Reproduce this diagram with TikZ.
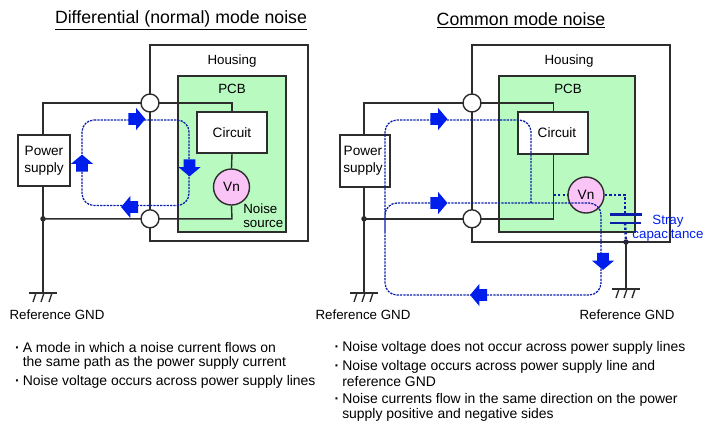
\documentclass[tikz,border=0pt]{standalone}
\usepackage{fontspec}
\setmainfont{Liberation Sans}
\usetikzlibrary{shapes.arrows}
\definecolor{pcbgreen}{RGB}{184,250,192}
\definecolor{vnpink}{RGB}{250,196,246}
\definecolor{noiseblue}{RGB}{10,30,170}
\definecolor{arrowblue}{RGB}{0,30,235}
\definecolor{wiregray}{RGB}{45,45,45}
\newcommand{\px}{0.75pt}
\newcommand{\bul}{\llap{\textbf{·}\hspace{2.2pt}}}
\tikzset{
  wire/.style={draw=wiregray,line width=1.05pt},
  housing/.style={rectangle,wire,inner sep=0pt},
  pcb/.style={rectangle,wire,fill=pcbgreen,inner sep=0pt},
  whitebox/.style={rectangle,wire,fill=white,inner sep=0pt,align=center,font=\fontsize{10.2}{12.6}\selectfont},
  vsource/.style={circle,wire,fill=vnpink,minimum size=36*\px,inner sep=0pt,font=\fontsize{10.2}{12}\selectfont},
  terminal/.style={circle,wire,fill=white,minimum size=18*\px,inner sep=0pt},
  junction/.style={circle,fill=black!85,minimum size=5.5*\px,inner sep=0pt},
  lbl/.style={inner sep=0pt,align=center,font=\fontsize{10}{12.6}\selectfont},
  straylbl/.style={lbl,text=arrowblue},
  heading/.style={inner sep=0pt,font=\fontsize{13.3}{16}\selectfont},
  bodytext/.style={inner sep=0pt,anchor=west,font=\fontsize{10.45}{12}\selectfont},
  noisepath/.style={draw=noiseblue,line width=0.95pt,dash pattern=on 1.7pt off 0.8pt,rounded corners=9pt},
  strayline/.style={draw=noiseblue,line width=1.8pt,dash pattern=on 1.8pt off 1.6pt},
  plate/.style={draw=noiseblue,line width=1.7pt},
  blockarrow/.style={single arrow,fill=arrowblue,inner sep=5.5*\px,minimum width=21*\px,
    minimum height=17*\px,single arrow head extend=4pt,single arrow tip angle=100},
  gnd/.pic={
    \draw[wire] (-14,0) -- (14,0);
    \draw[wire] (-7,0) -- (-10,9);
    \draw[wire] (1,0) -- (-2,9);
    \draw[wire] (9,0) -- (6,9);
  }
}
\begin{document}
\begin{tikzpicture}[x=\px,y=-\px]
  \useasboundingbox (0,0) rectangle (724,429);
  % left: differential mode
  \node[heading] (title1) at (181,20) {\underline{Differential (normal) mode noise}};
  \node[housing,minimum width=158*\px,minimum height=196*\px] (house1) at (229,143) {};
  \node[pcb,minimum width=108*\px,minimum height=156*\px] (pcb1) at (232,154) {};
  \node[lbl] (houselbl1) at (232,61) {Housing};
  \node[lbl] (pcblbl1) at (232,89) {PCB};
  \node[whitebox,minimum width=70*\px,minimum height=41*\px] (circuit1) at (232,132.5) {Circuit};
  \node[vsource] (vn1) at (231.5,187) {Vn};
  \node[whitebox,minimum width=52*\px,minimum height=51*\px] (supply1) at (44,160.5) {Power\\supply};
  \node[lbl,anchor=west,align=left,font=\fontsize{10}{10.8}\selectfont] (noiselbl1) at (243,216) {Noise\\source};
  \node[junction] (dot1) at (43,218.8) {};
  \coordinate (gnd1) at (43,293);
  \coordinate (topleft1) at (43,103);
  \coordinate (topright1) at (232,103);
  \coordinate (botright1) at (232,218.8);
  \draw[wire] (supply1.north -| topleft1) -- (topleft1) -- (topright1) -- (circuit1.north);
  \draw[wire] (circuit1.south) -- (vn1.north);
  \draw[wire] (vn1.south) -- (botright1) -- (dot1.center);
  \draw[wire,line width=1.2pt] (supply1.south -| dot1) -- (gnd1);
  \pic at (gnd1) {gnd};
  \node[terminal] (term1a) at (150,103) {};
  \node[terminal] (term1b) at (150,218.8) {};
  \node[lbl] (gndlbl1) at (57,315) {Reference GND};
  \coordinate (loop1a) at (82,120);
  \coordinate (loop1b) at (189,120);
  \coordinate (loop1c) at (189,205.5);
  \coordinate (loop1d) at (82,205.5);
  \draw[noisepath] (loop1a) -- (loop1b) -- (loop1c) -- (loop1d) -- cycle;
  \node[blockarrow] (arr1a) at (134.5,119) {};
  \node[blockarrow,shape border rotate=270] (arr1b) at (189.5,165.5) {};
  \node[blockarrow,shape border rotate=180] (arr1c) at (132,207) {};
  \node[blockarrow,shape border rotate=90] (arr1d) at (82,165.5) {};
  % right: common mode
  \node[heading] (title2) at (521,20) {\underline{Common mode noise}};
  \node[housing,minimum width=198*\px,minimum height=197*\px] (house2) at (571,143.5) {};
  \node[pcb,minimum width=136*\px,minimum height=156*\px] (pcb2) at (567,154) {};
  \node[lbl] (houselbl2) at (569,61) {Housing};
  \node[lbl] (pcblbl2) at (568,89) {PCB};
  \node[whitebox,minimum width=70*\px,minimum height=42*\px] (circuit2) at (553,133) {\hspace*{6pt}Circuit};
  \node[vsource] (vn2) at (586,195) {Vn};
  \node[whitebox,minimum width=50*\px,minimum height=52*\px] (supply2) at (365,161) {\hspace*{-3pt}Power\\\hspace*{-3pt}supply};
  \node[junction] (dot2) at (364,218.8) {};
  \node[junction] (dot3) at (626,242) {};
  \coordinate (gnd2) at (364,293);
  \coordinate (gnd3) at (626,289);
  \coordinate (topleft2) at (364,103);
  \coordinate (topright2) at (553.5,103);
  \coordinate (botright2) at (553.5,218.8);
  \coordinate (vnwire) at (553.5,195);
  \coordinate (vncorner) at (625,195);
  \coordinate (plate1a) at (610,214.5);
  \coordinate (plate1b) at (642,214.5);
  \coordinate (plate2a) at (610,223);
  \coordinate (plate2b) at (641,223);
  \coordinate (platetop) at (625,214.5);
  \coordinate (platebot) at (625,223);
  \draw[wire] (supply2.north -| topleft2) -- (topleft2) -- (topright2) -- (circuit2.north -| topright2);
  \draw[wire] (circuit2.south -| botright2) -- (botright2) -- (dot2.center);
  \draw[wire,line width=1.2pt] (supply2.south -| dot2) -- (gnd2);
  \draw[wire,line width=1.2pt] (dot3.center) -- (gnd3);
  \pic at (gnd2) {gnd};
  \pic at (gnd3) {gnd};
  \node[terminal] (term2a) at (472,103) {};
  \node[terminal] (term2b) at (472,218.8) {};
  \node[lbl] (gndlbl2) at (363,315) {Reference GND};
  \node[lbl] (gndlbl3) at (627,315) {Reference GND};
  \draw[strayline] (vnwire) -- (vn2.west);
  \draw[strayline] (vn2.east) -- (vncorner) -- (platetop);
  \draw[strayline] (platebot) -- (dot3.center);
  \draw[plate] (plate1a) -- (plate1b);
  \draw[plate] (plate2a) -- (plate2b);
  \node[straylbl] (straylbl) at (668,221) {Stray};
  \node[straylbl] (caplbl) at (668,235.5) {capacitance};
  \coordinate (loop2a) at (385,232);
  \coordinate (loop2b) at (385,203);
  \coordinate (loop2c) at (601,203);
  \coordinate (loop2d) at (601,295);
  \coordinate (loop2e) at (385,295);
  \coordinate (loop2f) at (385,120);
  \coordinate (loop2g) at (531,120);
  \coordinate (loop2h) at (531,203);
  \draw[noisepath] (loop2a) -- (loop2b) -- (loop2c) -- (loop2d) -- (loop2e) -- (loop2f) -- (loop2g) -- (loop2h);
  \node[blockarrow] (arr2a) at (436.5,119) {};
  \node[blockarrow] (arr2b) at (436.5,203) {};
  \node[blockarrow,shape border rotate=270] (arr2c) at (603,259) {};
  \node[blockarrow,shape border rotate=180] (arr2d) at (481,295) {};
  % notes
  \node[bodytext] (note1a) at (22.5,347.5) {\bul A mode in which a noise current flows on};
  \node[bodytext] (note1b) at (22.5,362.5) {the same path as the power supply current};
  \node[bodytext] (note1c) at (22.5,382) {\bul Noise voltage occurs across power supply lines};
  \node[bodytext] (note2a) at (342,348) {\bul Noise voltage does not occur across power supply lines};
  \node[bodytext] (note2b) at (342,367) {\bul Noise voltage occurs across power supply line and};
  \node[bodytext] (note2c) at (342,382) {reference GND};
  \node[bodytext] (note2d) at (342,400) {\bul Noise currents flow in the same direction on the power};
  \node[bodytext] (note2e) at (342,415) {supply positive and negative sides};
\end{tikzpicture}
\end{document}
